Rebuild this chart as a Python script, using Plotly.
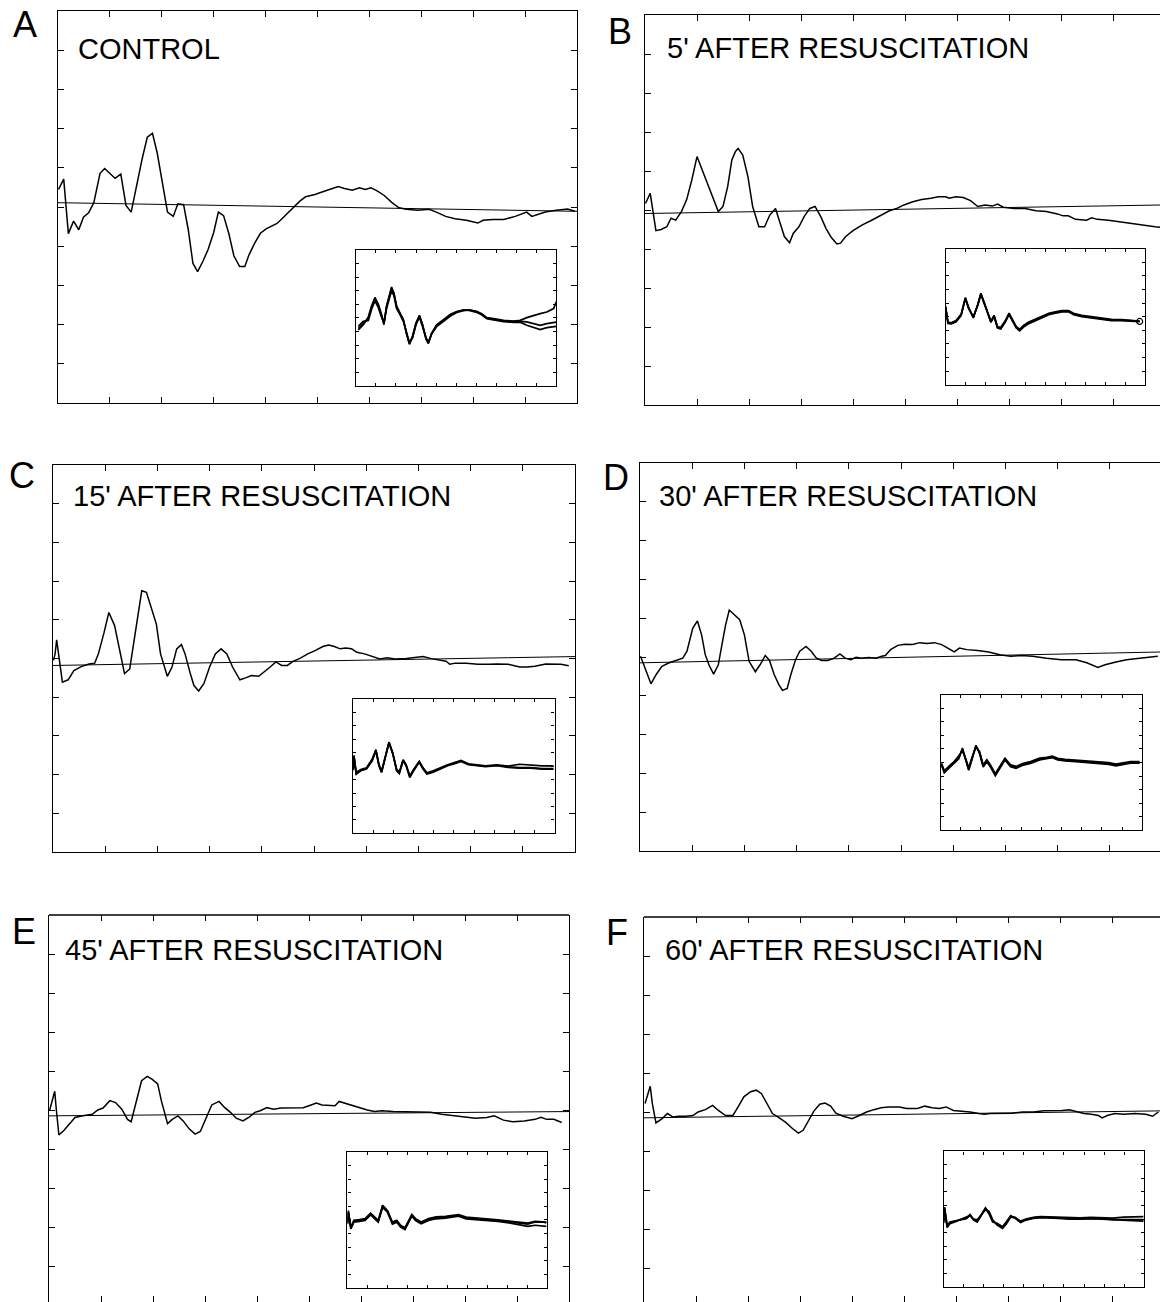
import plotly.graph_objects as go

W, H = 1160, 1302

# ---------------- main waveforms (x: time divisions 0-10, y: divisions) ----------------
a_x = [0.01,0.11,0.20,0.30,0.40,0.49,0.59,0.69,0.81,0.90,1.01,1.10,1.21,1.31,1.41,1.52,1.62,1.72,1.82,1.91,
       2.01,2.11,2.22,2.31,2.42,2.51,2.60,2.69,2.79,2.89,3.00,3.09,3.19,3.29,3.39,3.50,3.60,3.68,3.79,3.90,
       4.01,4.12,4.22,4.33,4.44,4.55,4.66,4.77,4.95,5.13,5.27,5.40,5.52,5.67,5.81,5.92,6.03,6.14,6.28,6.43,
       6.57,6.71,6.93,7.15,7.29,7.47,7.65,7.87,8.09,8.19,8.38,8.59,8.81,9.03,9.13,9.24,9.39,9.60,9.82,9.96]
a_y = [0.45,0.71,-0.68,-0.36,-0.58,-0.26,-0.15,0.11,0.86,0.98,0.84,0.73,0.84,0.04,-0.13,0.62,1.22,1.78,1.88,1.39,
       0.62,-0.13,-0.24,0.08,0.06,-0.58,-1.44,-1.65,-1.39,-1.09,-0.65,-0.13,-0.22,-0.67,-1.25,-1.52,-1.52,-1.22,-0.92,-0.67,
       -0.56,-0.48,-0.42,-0.28,-0.13,0.02,0.15,0.26,0.32,0.40,0.47,0.52,0.47,0.43,0.49,0.45,0.49,0.42,0.30,0.12,
       -0.02,-0.06,-0.08,-0.06,-0.13,-0.24,-0.30,-0.34,-0.41,-0.34,-0.32,-0.32,-0.24,-0.13,-0.24,-0.19,-0.13,-0.08,-0.05,-0.11]

b_x = [0.01,0.10,0.21,0.31,0.42,0.50,0.59,0.70,0.80,0.90,1.00,1.10,1.20,1.31,1.41,1.50,1.59,1.67,1.74,1.79,
       1.88,1.98,2.07,2.19,2.30,2.40,2.51,2.59,2.68,2.78,2.85,2.96,3.06,3.17,3.27,3.38,3.48,3.58,3.69,3.76,
       3.86,4.00,4.18,4.35,4.52,4.70,4.84,4.98,5.15,5.32,5.50,5.64,5.78,5.85,5.98,6.12,6.26,6.40,6.54,6.68,
       6.78,6.89,7.10,7.31,7.52,7.72,7.93,8.04,8.14,8.28,8.49,8.59,8.70,8.91,9.12,9.32,9.53,9.81,10.0]
b_y = [0.17,0.43,-0.53,-0.50,-0.43,-0.21,-0.26,-0.04,0.26,0.77,1.37,1.03,0.68,0.30,-0.04,0.09,0.60,1.28,1.50,1.58,
       1.41,0.85,0.09,-0.43,-0.43,-0.13,0.04,-0.30,-0.68,-0.84,-0.60,-0.43,-0.17,0.04,0.09,-0.17,-0.47,-0.70,-0.87,-0.85,
       -0.68,-0.53,-0.38,-0.27,-0.15,-0.02,0.04,0.13,0.21,0.27,0.30,0.34,0.34,0.30,0.34,0.32,0.24,0.09,0.13,0.10,
       0.15,0.07,0.04,0.04,-0.02,-0.04,-0.10,-0.15,-0.15,-0.24,-0.26,-0.20,-0.24,-0.26,-0.30,-0.34,-0.38,-0.43,-0.45]

c_x = [0.01,0.04,0.07,0.11,0.18,0.29,0.40,0.54,0.69,0.80,0.87,0.98,1.07,1.18,1.27,1.37,1.47,1.56,1.64,1.70,
       1.79,1.88,1.98,2.06,2.19,2.28,2.37,2.46,2.53,2.63,2.70,2.79,2.89,3.00,3.11,3.22,3.33,3.44,3.58,3.69,
       3.80,3.94,4.05,4.16,4.27,4.38,4.49,4.59,4.74,4.88,5.03,5.17,5.28,5.39,5.50,5.61,5.72,5.82,5.97,6.11,
       6.26,6.40,6.55,6.77,6.91,7.09,7.27,7.42,7.53,7.60,7.71,7.92,8.14,8.36,8.50,8.72,8.94,9.08,9.23,9.44,
       9.59,9.73,9.88]
c_y = [-0.05,0.12,0.48,0.03,-0.61,-0.55,-0.31,-0.21,-0.14,-0.12,0.12,0.68,1.19,0.85,0.29,-0.39,-0.27,0.55,1.32,1.75,
       1.71,1.32,0.89,0.12,-0.46,-0.22,0.25,0.36,0.12,-0.39,-0.70,-0.84,-0.65,-0.22,0.12,0.25,0.12,-0.22,-0.55,-0.50,
       -0.44,-0.46,-0.35,-0.22,-0.09,-0.18,-0.18,-0.08,0.01,0.12,0.21,0.31,0.35,0.31,0.25,0.27,0.25,0.16,0.12,0.05,
       -0.01,0.02,-0.01,0.00,0.02,0.05,-0.01,-0.05,-0.07,-0.15,-0.12,-0.12,-0.15,-0.15,-0.14,-0.15,-0.22,-0.22,-0.20,-0.14,
       -0.14,-0.15,-0.19]

d_x = [0.01,0.07,0.13,0.21,0.31,0.42,0.56,0.73,0.82,0.90,1.01,1.10,1.18,1.25,1.32,1.41,1.50,1.57,1.64,1.71,
       1.80,1.91,2.00,2.09,2.21,2.30,2.40,2.48,2.57,2.66,2.73,2.82,2.89,2.98,3.06,3.18,3.28,3.38,3.48,3.60,
       3.72,3.83,3.93,4.04,4.14,4.24,4.38,4.52,4.63,4.70,4.80,4.94,5.08,5.22,5.36,5.50,5.64,5.78,5.92,6.02,
       6.12,6.26,6.47,6.68,6.89,7.10,7.31,7.52,7.79,8.07,8.35,8.56,8.77,8.91,9.12,9.32,9.53,9.74,9.92]
d_y = [0.02,-0.20,-0.45,-0.69,-0.45,-0.24,-0.15,-0.07,-0.03,0.15,0.74,0.93,0.57,0.06,-0.20,-0.44,-0.20,0.32,0.83,1.21,
       1.09,0.96,0.57,-0.11,-0.38,-0.20,0.04,-0.09,-0.45,-0.71,-0.86,-0.81,-0.45,-0.07,0.15,0.27,0.15,-0.03,-0.09,-0.09,
       -0.03,0.08,-0.03,-0.07,-0.01,-0.03,-0.01,-0.03,0.02,0.04,0.19,0.30,0.33,0.32,0.37,0.35,0.37,0.32,0.21,0.13,
       0.23,0.19,0.17,0.13,0.06,0.02,0.04,0.02,-0.03,-0.07,-0.07,-0.15,-0.27,-0.20,-0.13,-0.07,-0.04,-0.01,0.02]

e_x = [0.01,0.06,0.11,0.14,0.19,0.29,0.40,0.50,0.65,0.83,0.94,1.04,1.17,1.28,1.40,1.51,1.58,1.69,1.78,1.89,
       1.98,2.09,2.16,2.28,2.37,2.48,2.58,2.70,2.81,2.91,3.02,3.13,3.27,3.38,3.49,3.60,3.73,3.85,3.96,4.06,
       4.19,4.32,4.46,4.68,4.89,5.04,5.14,5.25,5.40,5.50,5.58,5.68,5.83,5.97,6.12,6.26,6.40,6.62,6.83,7.05,
       7.34,7.55,7.77,7.99,8.20,8.42,8.56,8.74,8.92,9.14,9.35,9.46,9.57,9.71,9.86]
e_y = [-0.02,0.24,0.48,0.02,-0.64,-0.52,-0.35,-0.19,-0.15,-0.11,0.00,0.05,0.24,0.19,0.02,-0.24,-0.30,0.24,0.75,0.86,
       0.79,0.67,0.24,-0.35,-0.24,-0.15,-0.28,-0.49,-0.62,-0.55,-0.19,0.13,0.22,0.06,-0.06,-0.21,-0.28,-0.18,-0.06,-0.02,
       0.06,0.02,0.05,0.05,0.06,0.13,0.18,0.13,0.11,0.11,0.22,0.18,0.11,0.05,0.00,-0.04,-0.02,-0.04,-0.05,-0.06,
       -0.06,-0.11,-0.15,-0.19,-0.21,-0.19,-0.15,-0.26,-0.30,-0.28,-0.24,-0.19,-0.24,-0.24,-0.32]

f_x = [0.02,0.07,0.12,0.16,0.23,0.35,0.45,0.56,0.66,0.80,0.94,1.04,1.18,1.32,1.43,1.57,1.71,1.81,1.92,2.05,
       2.16,2.26,2.37,2.47,2.58,2.72,2.86,2.97,3.06,3.17,3.27,3.38,3.48,3.59,3.69,3.83,4.00,4.14,4.28,4.42,
       4.56,4.70,4.91,5.05,5.26,5.40,5.54,5.68,5.81,5.95,6.09,6.27,6.44,6.55,6.65,6.86,7.08,7.28,7.49,7.69,
       7.90,8.04,8.18,8.32,8.46,8.60,8.74,8.81,8.91,9.05,9.23,9.44,9.65,9.78,9.89]
f_y = [0.22,0.47,0.66,0.22,-0.28,-0.17,-0.04,-0.13,-0.11,-0.11,-0.09,0.00,0.06,0.17,0.04,-0.09,-0.09,0.13,0.39,0.52,
       0.56,0.47,0.22,-0.04,-0.13,-0.26,-0.43,-0.54,-0.47,-0.22,0.03,0.20,0.23,0.15,-0.03,-0.11,-0.17,-0.09,0.00,0.06,
       0.11,0.13,0.13,0.09,0.09,0.15,0.11,0.09,0.13,0.04,0.03,0.00,-0.04,-0.06,-0.04,-0.03,-0.03,0.00,0.00,0.03,
       0.03,0.04,0.06,0.00,-0.04,-0.06,-0.09,-0.15,-0.09,-0.04,-0.06,-0.04,-0.06,-0.11,0.00]

# ---------------- reference (zero) lines ----------------
base_x = [0, 10]
a_base = [0.11, -0.11]
b_base = [-0.09, 0.13]
c_base = [-0.18, 0.05]
d_base = [-0.15, 0.13]
e_base = [-0.15, -0.04]
f_base = [-0.15, 0.03]

# ---------------- inset traces (three overlaid recordings) ----------------
ai_x = [0.12,0.37,0.62,0.78,0.95,1.12,1.28,1.40,1.53,1.67,1.78,1.90,2.03,2.20,2.37,2.53,2.67,2.83,3.00,3.17,
        3.33,3.50,3.62,3.78,4.03,4.37,4.70,5.03,5.37,5.70,6.03,6.28,6.53,6.87,7.37,7.87,8.20,8.53,8.87,9.20,
        9.53,9.87,10.0]
ai_y1 = [-0.62,-0.33,-0.04,0.64,1.13,0.74,0.16,-0.33,0.64,1.23,1.81,1.42,0.64,0.25,-0.14,-0.92,-1.50,-1.11,-0.33,0.10,
         -0.43,-1.21,-1.46,-0.92,-0.43,-0.14,0.16,0.35,0.45,0.45,0.39,0.25,0.02,-0.04,-0.14,-0.18,-0.14,0.02,0.16,0.25,
         0.35,0.55,0.94]
ai_y2 = [-0.50,-0.20,-0.15,0.50,1.00,0.60,0.05,-0.25,0.55,1.10,1.60,1.30,0.55,0.20,-0.20,-0.85,-1.45,-1.15,-0.40,0.05,
         -0.50,-1.15,-1.40,-0.95,-0.50,-0.20,0.10,0.32,0.43,0.47,0.36,0.20,0.00,-0.08,-0.18,-0.22,-0.20,-0.23,-0.35,-0.43,
         -0.33,-0.29,-0.25]
ai_y3 = [-0.70,-0.40,0.05,0.70,1.20,0.80,0.20,-0.40,0.70,1.30,1.75,1.45,0.70,0.30,-0.10,-0.95,-1.55,-1.05,-0.30,0.15,
         -0.40,-1.25,-1.50,-0.90,-0.40,-0.10,0.20,0.38,0.48,0.43,0.33,0.18,-0.05,-0.12,-0.22,-0.26,-0.25,-0.43,-0.55,-0.68,
         -0.57,-0.53,-0.50]

bi_x = [0.0,0.12,0.28,0.53,0.78,0.99,1.16,1.39,1.61,1.77,1.94,2.15,2.27,2.43,2.60,2.76,2.98,3.18,3.38,3.54,
        3.71,3.92,4.17,4.50,4.83,5.17,5.50,5.83,6.16,6.41,6.82,7.32,7.81,8.31,8.81,9.30,9.72]
bi_y1 = [0.59,-0.36,-0.40,-0.26,0.10,1.09,0.50,-0.04,0.69,1.35,0.79,0.04,-0.30,0.04,-0.63,-0.69,-0.30,0.16,-0.30,-0.63,
         -0.79,-0.55,-0.36,-0.20,-0.04,0.16,0.24,0.32,0.32,0.16,0.04,-0.04,-0.12,-0.20,-0.20,-0.24,-0.28]
bi_y2 = [0.55,-0.32,-0.36,-0.22,0.14,1.05,0.46,0.00,0.66,1.30,0.75,0.08,-0.26,0.08,-0.58,-0.64,-0.26,0.20,-0.26,-0.58,
         -0.74,-0.50,-0.31,-0.15,0.01,0.20,0.28,0.36,0.35,0.20,0.08,0.00,-0.08,-0.16,-0.17,-0.21,-0.26]
bi_y3 = [0.60,-0.40,-0.43,-0.30,0.06,1.12,0.53,-0.08,0.72,1.38,0.82,0.00,-0.34,0.00,-0.67,-0.73,-0.34,0.12,-0.34,-0.67,
         -0.83,-0.60,-0.41,-0.25,-0.09,0.12,0.20,0.28,0.29,0.12,0.00,-0.08,-0.16,-0.24,-0.23,-0.27,-0.30]

ci_x = [0.0,0.04,0.15,0.38,0.66,0.94,1.13,1.28,1.41,1.59,1.78,1.97,2.16,2.29,2.48,2.63,2.81,3.00,3.28,3.47,
        3.66,3.94,4.32,4.69,5.07,5.35,5.72,6.10,6.57,7.13,7.69,8.26,8.82,9.38,9.94]
ci_y1 = [-0.20,0.64,-0.44,-0.25,-0.15,0.35,0.94,0.05,-0.35,0.54,1.43,0.74,-0.25,-0.41,0.35,0.05,-0.64,-0.25,0.25,-0.15,
         -0.44,-0.35,-0.15,0.05,0.19,0.31,0.11,0.05,-0.01,0.05,-0.05,-0.09,-0.09,-0.15,-0.15]
ci_y2 = [-0.25,0.55,-0.38,-0.20,-0.10,0.40,0.98,0.10,-0.30,0.58,1.38,0.70,-0.20,-0.36,0.38,0.08,-0.58,-0.20,0.28,-0.10,
         -0.40,-0.30,-0.10,0.08,0.22,0.33,0.14,0.08,0.02,0.08,0.00,0.11,0.05,0.01,0.01]
ci_y3 = [-0.15,0.60,-0.48,-0.28,-0.18,0.30,0.90,0.02,-0.38,0.50,1.40,0.78,-0.28,-0.44,0.32,0.02,-0.68,-0.28,0.22,-0.18,
         -0.47,-0.38,-0.18,0.02,0.16,0.28,0.08,0.02,-0.04,0.02,-0.08,-0.12,-0.12,-0.18,-0.18]

di_x = [0.04,0.18,0.40,0.67,0.90,1.08,1.26,1.39,1.57,1.75,1.93,2.11,2.29,2.47,2.71,2.92,3.19,3.47,3.74,4.10,
        4.46,4.91,5.27,5.54,5.81,6.17,6.71,7.26,7.80,8.34,8.70,9.06,9.42,9.87]
di_y1 = [-0.10,-0.55,-0.29,0.00,0.29,0.78,0.10,-0.39,0.29,0.98,0.59,-0.20,0.10,-0.20,-0.72,-0.29,0.20,-0.20,-0.29,-0.10,
         0.00,0.20,0.25,0.33,0.20,0.14,0.10,0.06,0.00,-0.06,-0.14,-0.06,0.00,0.00]
di_y2 = [-0.05,-0.48,-0.22,0.06,0.40,0.70,0.16,-0.32,0.36,0.90,0.66,-0.14,0.16,-0.14,-0.66,-0.23,0.26,-0.14,-0.23,-0.04,
         0.06,0.26,0.30,0.38,0.25,0.19,0.15,0.11,0.05,-0.01,-0.09,-0.01,0.05,0.06]
di_y3 = [-0.15,-0.60,-0.34,-0.05,0.22,0.85,0.05,-0.45,0.24,1.02,0.52,-0.26,0.05,-0.26,-0.78,-0.34,0.15,-0.25,-0.34,-0.15,
         -0.05,0.15,0.20,0.28,0.15,0.09,0.05,0.01,-0.05,-0.11,-0.19,-0.10,-0.04,-0.04]

ei_x = [0.0,0.04,0.17,0.32,0.60,0.88,1.16,1.35,1.54,1.76,2.00,2.25,2.47,2.66,2.88,3.07,3.22,3.41,3.69,4.06,
        4.44,4.91,5.28,5.56,5.94,6.40,6.97,7.53,8.09,8.65,9.03,9.40,9.78,9.96]
ei_y1 = [-0.20,0.51,-0.47,-0.08,-0.04,0.02,0.35,0.12,-0.08,0.80,0.51,-0.18,-0.08,-0.37,-0.51,-0.08,0.27,0.02,-0.18,0.02,
         0.12,0.16,0.22,0.27,0.12,0.08,0.02,-0.04,-0.12,-0.18,-0.24,-0.12,-0.12,-0.18]
ei_y2 = [-0.15,0.45,-0.42,-0.02,0.02,0.08,0.40,0.18,-0.02,0.86,0.56,-0.12,-0.02,-0.31,-0.45,-0.02,0.32,0.08,-0.12,0.08,
         0.18,0.21,0.27,0.32,0.17,0.13,0.07,0.01,-0.07,-0.13,-0.18,-0.08,-0.08,-0.12]
ei_y3 = [-0.25,0.55,-0.52,-0.13,-0.09,-0.03,0.30,0.07,-0.13,0.74,0.46,-0.24,-0.13,-0.42,-0.56,-0.13,0.22,-0.03,-0.23,-0.03,
         0.07,0.11,0.17,0.22,0.07,0.03,-0.03,-0.09,-0.17,-0.27,-0.37,-0.31,-0.33,-0.37]

fi_x = [0.0,0.05,0.18,0.32,0.59,0.86,1.14,1.32,1.50,1.68,1.91,2.09,2.27,2.45,2.67,2.94,3.12,3.35,3.57,3.84,
        4.11,4.47,4.83,5.19,5.73,6.27,6.81,7.35,7.89,8.43,8.97,9.51,9.96]
fi_y1 = [-0.20,0.67,-0.43,-0.23,-0.13,-0.03,0.07,0.27,-0.03,-0.13,0.37,0.67,0.37,-0.13,-0.29,-0.49,-0.23,0.17,0.07,-0.17,
         -0.03,0.07,0.11,0.11,0.07,0.03,0.03,0.07,0.03,-0.03,-0.03,-0.03,-0.03]
fi_y2 = [-0.15,0.60,-0.50,-0.28,-0.15,0.00,0.12,0.20,0.00,-0.05,0.30,0.55,0.45,-0.05,-0.35,-0.55,-0.30,0.12,0.10,-0.12,
         0.00,0.10,0.14,0.13,0.10,0.06,0.07,0.10,0.07,0.05,0.12,0.12,0.14]
fi_y3 = [-0.25,0.70,-0.38,-0.18,-0.10,-0.06,0.02,0.22,-0.06,-0.18,0.32,0.62,0.30,-0.18,-0.25,-0.45,-0.18,0.20,0.04,-0.20,
         -0.06,0.04,0.08,0.08,0.04,0.00,-0.01,0.03,0.00,-0.06,-0.10,-0.10,-0.12]

labels = ["A", "B", "C", "D", "E", "F"]
titles = ["CONTROL", "5' AFTER RESUSCITATION", "15' AFTER RESUSCITATION",
          "30' AFTER RESUSCITATION", "45' AFTER RESUSCITATION", "60' AFTER RESUSCITATION"]

series = [
    (a_x, a_y, a_base, ai_x, ai_y1, ai_y2, ai_y3),
    (b_x, b_y, b_base, bi_x, bi_y1, bi_y2, bi_y3),
    (c_x, c_y, c_base, ci_x, ci_y1, ci_y2, ci_y3),
    (d_x, d_y, d_base, di_x, di_y1, di_y2, di_y3),
    (e_x, e_y, e_base, ei_x, ei_y1, ei_y2, ei_y3),
    (f_x, f_y, f_base, fi_x, fi_y1, fi_y2, fi_y3),
]

# ---------------- layout geometry (pixels) ----------------
# panel frame: left, top, right, bottom (frames of B, D, E, F run past the page edge)
boxes = [(58, 11, 577, 403), (645, 15, 1165, 405), (53, 465, 575, 852),
         (640, 463, 1162, 851), (49, 915, 569, 1305), (644, 917, 1164, 1307)]
# inset frame in panel units: x0, x1, y_top, y_bottom
insets = [(5.74, 9.60, -1.09, -4.57), (5.78, 9.62, -0.99, -4.48), (5.75, 9.61, -1.04, -4.52),
          (5.76, 9.62, -0.97, -4.47), (5.74, 9.58, -1.07, -4.57), (5.76, 9.62, -1.01, -4.48)]
label_pos = [(25, 24), (620, 31), (22, 475), (616, 477), (24, 931), (617, 932)]
title_pos = [(76, 49), (665, 48), (71, 496), (657, 496), (63, 950), (663, 950)]

fig = go.Figure()
layout_axes = {}
annotations = []
shapes = []

def ax_name(kind, n):
    return f"{kind}axis" if n == 1 else f"{kind}axis{n}"

def ref(kind, n):
    return kind if n == 1 else f"{kind}{n}"

for i in range(6):
    L, T, R, B = boxes[i]
    Rc, Bc = min(R, W), min(B, H)
    clip_r = R > W
    clip_b = B > H
    xr = [0, 10 * (Rc - L) / (R - L)]
    yr = [5 - 10 * (Bc - T) / (B - T), 5]
    n = 2 * i + 1
    m = 2 * i + 2
    common = dict(showgrid=False, zeroline=False, showticklabels=False,
                  linecolor="black", ticks="inside", tickcolor="black", tickwidth=1,
                  fixedrange=True)
    layout_axes[ax_name("x", n)] = dict(common, domain=[L / W, Rc / W], range=xr, tick0=0, dtick=1,
                                        ticklen=6, linewidth=1.3, showline=not clip_b, mirror="ticks",
                                        anchor=ref("y", n))
    layout_axes[ax_name("y", n)] = dict(common, domain=[1 - Bc / H, 1 - T / H], range=yr, tick0=0, dtick=1,
                                        ticklen=6, linewidth=1.3, showline=True,
                                        mirror=(False if clip_r else "ticks"),
                                        anchor=ref("x", n))
    if clip_b:
        # top frame edge only (bottom edge lies below the page)
        shapes.append(dict(type="line", xref=f"{ref('x', n)} domain", yref=f"{ref('y', n)} domain",
                           x0=0, x1=1, y0=1, y1=1, line=dict(color="black", width=1.3)))
    # inset
    x0, x1, yt, yb = insets[i]
    ix0 = L + x0 / 10 * (R - L)
    ix1 = L + x1 / 10 * (R - L)
    iyt = T + (5 - yt) / 10 * (B - T)
    iyb = T + (5 - yb) / 10 * (B - T)
    layout_axes[ax_name("x", m)] = dict(common, domain=[ix0 / W, ix1 / W], range=[0, 10], tick0=0, dtick=1,
                                        ticklen=3, linewidth=1.3, showline=True, mirror="ticks",
                                        anchor=ref("y", m))
    layout_axes[ax_name("y", m)] = dict(common, domain=[1 - iyb / H, 1 - iyt / H], range=[-4, 4], tick0=0,
                                        dtick=0.8, ticklen=3, linewidth=1.3, showline=True, mirror="ticks",
                                        anchor=ref("x", m))

    sx, sy, sbase, ix, iy1, iy2, iy3 = series[i]
    fig.add_trace(go.Scatter(x=base_x, y=sbase, mode="lines", line=dict(color="black", width=1),
                             xaxis=ref("x", n), yaxis=ref("y", n), showlegend=False, hoverinfo="skip"))
    fig.add_trace(go.Scatter(x=sx, y=sy, mode="lines", line=dict(color="black", width=1.5),
                             xaxis=ref("x", n), yaxis=ref("y", n), showlegend=False))
    for iy in (iy1, iy2, iy3):
        fig.add_trace(go.Scatter(x=ix, y=iy, mode="lines", line=dict(color="black", width=1.7),
                                 xaxis=ref("x", m), yaxis=ref("y", m), showlegend=False))
    if i == 1:
        fig.add_trace(go.Scatter(x=[ix[-1]], y=[iy1[-1]], mode="markers",
                                 marker=dict(symbol="circle-open", size=6, color="black", line=dict(width=1.2)),
                                 xaxis=ref("x", m), yaxis=ref("y", m), showlegend=False))

    lx, ly = label_pos[i]
    annotations.append(dict(text=labels[i], x=lx / W, y=1 - ly / H, xref="paper", yref="paper",
                            xanchor="center", yanchor="middle", showarrow=False,
                            font=dict(family="Liberation Sans, Arial, sans-serif", size=36, color="black")))
    tx, ty = title_pos[i]
    annotations.append(dict(text=titles[i], x=tx / W, y=1 - ty / H, xref="paper", yref="paper",
                            xanchor="left", yanchor="middle", showarrow=False,
                            font=dict(family="Liberation Sans, Arial, sans-serif", size=29, color="black")))

fig.update_layout(width=W, height=H, margin=dict(l=0, r=0, t=0, b=0),
                  paper_bgcolor="white", plot_bgcolor="rgba(0,0,0,0)",
                  showlegend=False, annotations=annotations, shapes=shapes, **layout_axes)

fig.write_html("out.html", config={"displayModeBar": False})
